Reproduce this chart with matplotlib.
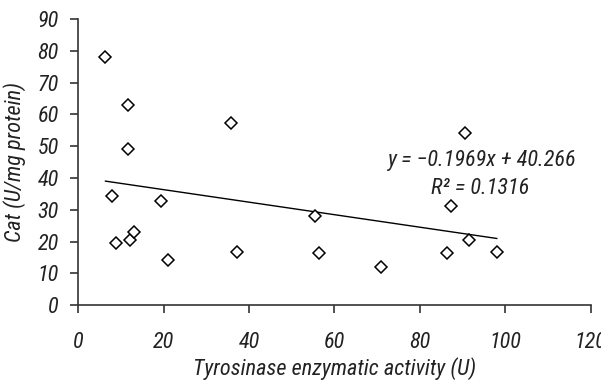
import numpy as np
import matplotlib
matplotlib.use("Agg")
import matplotlib.pyplot as plt

# data
tyr = np.array([6.4, 7.9, 8.8, 11.6, 11.6, 12.2, 13.0, 19.5, 21.0, 35.9, 37.3,
                55.4, 56.4, 70.9, 86.3, 87.3, 90.5, 91.5, 98.0])
cat = np.array([77.9, 34.2, 19.7, 63.0, 49.2, 20.5, 23.1, 32.9, 14.3, 57.2, 16.8,
                28.1, 16.3, 11.9, 16.3, 31.3, 54.2, 20.6, 16.8])

# trendline from the chart
slope = -0.1969
intercept = 40.266
r2 = 0.1316

x_ticks = [0, 20, 40, 60, 80, 100, 120]
y_ticks = [0, 10, 20, 30, 40, 50, 60, 70, 80, 90]

plt.rcParams['font.family'] = ['Roboto Condensed', 'DejaVu Sans']
plt.rcParams['font.style'] = 'italic'
fs = 16

fig = plt.figure(figsize=(6.01, 3.8), dpi=100)
ax = fig.add_axes([0.13, 0.197, 0.853, 0.753])

ax.plot(tyr, cat, linestyle='none', marker='D', markersize=6.3,
        markerfacecolor='white', markeredgecolor='black', markeredgewidth=1.1,
        clip_on=False, zorder=3)

x_line = np.array([tyr.min(), tyr.max()])
ax.plot(x_line, slope * x_line + intercept, color='black', lw=1.0)

ax.set_xlim(0, 120)
ax.set_ylim(0, 90)
ax.set_xticks(x_ticks)
ax.set_yticks(y_ticks)

for s in ['top', 'right']:
    ax.spines[s].set_visible(False)
for s in ['left', 'bottom']:
    ax.spines[s].set_color('#333333')
    ax.spines[s].set_linewidth(1.2)

ax.tick_params(axis='x', direction='out', length=6, width=1.2, color='#333333',
               labelsize=fs, pad=13, labelcolor='#222222')
ax.tick_params(axis='y', direction='out', length=6, width=1.2, color='#333333',
               labelsize=fs, pad=8, labelcolor='#222222')

ax.set_xlabel("Tyrosinase enzymatic activity (U)", fontsize=fs, color='#222222',
              labelpad=3)
ax.set_ylabel("Cat (U/mg protein)", fontsize=fs, color='#222222', labelpad=8)

ax.text(94.7, 45.6, f"y = \u2212{abs(slope):.4f}x + {intercept:.3f}",
        fontsize=fs, color='#222222', ha='center', va='center')
ax.text(94.0, 36.8, f"R\u00b2 = {r2:.4f}", fontsize=fs, color='#222222',
        ha='center', va='center')

fig.savefig("out.png", dpi=100)
